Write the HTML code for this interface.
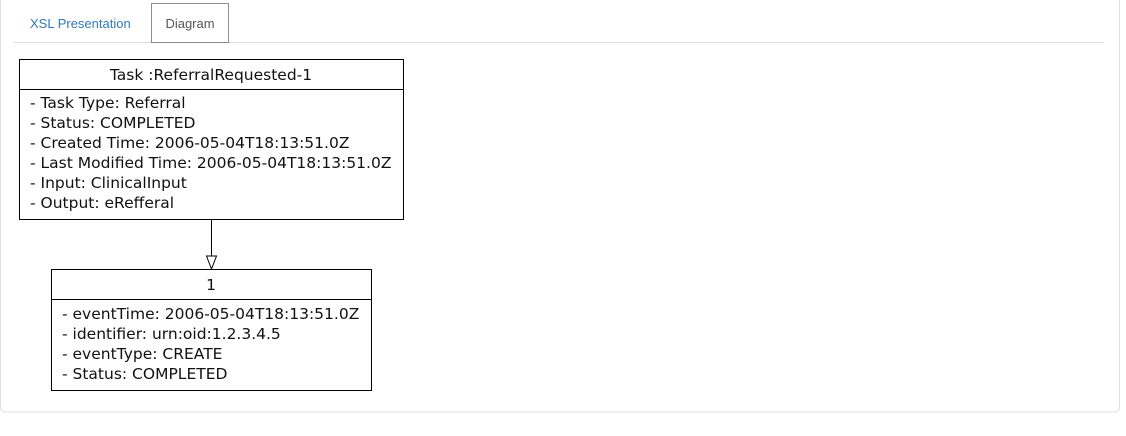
<!DOCTYPE html>
<html><head><meta charset="utf-8"><style>
body{margin:0;width:1126px;height:436px;background:#fff;overflow:hidden}
svg{display:block}
</style></head><body>
<svg width="1126" height="436" xmlns="http://www.w3.org/2000/svg">
<rect x="0.5" y="-5" width="1119" height="417" rx="4" fill="#fff" stroke="#ddd"/>
<line x1="14" y1="42.5" x2="1104" y2="42.5" stroke="#ddd"/>
<rect x="151.5" y="3.5" width="77" height="39" fill="#fff" stroke="#222" stroke-dasharray="1,1"/>
<text x="30" y="28" font-family="Liberation Sans, sans-serif" font-size="13" fill="#337ab7">XSL Presentation</text>
<text x="190" y="28" font-family="Liberation Sans, sans-serif" font-size="13" fill="#555" text-anchor="middle">Diagram</text>
<g font-family="DejaVu Sans, sans-serif" font-size="15.5" fill="#111">
<rect x="19.5" y="59.5" width="384" height="160" fill="#fff" stroke="#000"/>
<line x1="19.5" y1="89.5" x2="403.5" y2="89.5" stroke="#000"/>
<text x="211" y="80" text-anchor="middle">Task :ReferralRequested-1</text>
<text x="30" y="108">- Task Type: Referral</text>
<text x="30" y="128">- Status: COMPLETED</text>
<text x="30" y="148">- Created Time: 2006-05-04T18:13:51.0Z</text>
<text x="30" y="168">- Last Modified Time: 2006-05-04T18:13:51.0Z</text>
<text x="30" y="188">- Input: ClinicalInput</text>
<text x="30" y="208">- Output: eRefferal</text>
<line x1="211.5" y1="219" x2="211.5" y2="256" stroke="#000"/>
<polygon points="206.5,256 216.5,256 211.5,269" fill="#fff" stroke="#000"/>
<rect x="51.5" y="269.5" width="320" height="121" fill="#fff" stroke="#000"/>
<line x1="51.5" y1="299.5" x2="371.5" y2="299.5" stroke="#000"/>
<text x="211" y="290" text-anchor="middle">1</text>
<text x="62" y="319">- eventTime: 2006-05-04T18:13:51.0Z</text>
<text x="62" y="339">- identifier: urn:oid:1.2.3.4.5</text>
<text x="62" y="359">- eventType: CREATE</text>
<text x="62" y="379">- Status: COMPLETED</text>
</g>
</svg>
</body></html>
